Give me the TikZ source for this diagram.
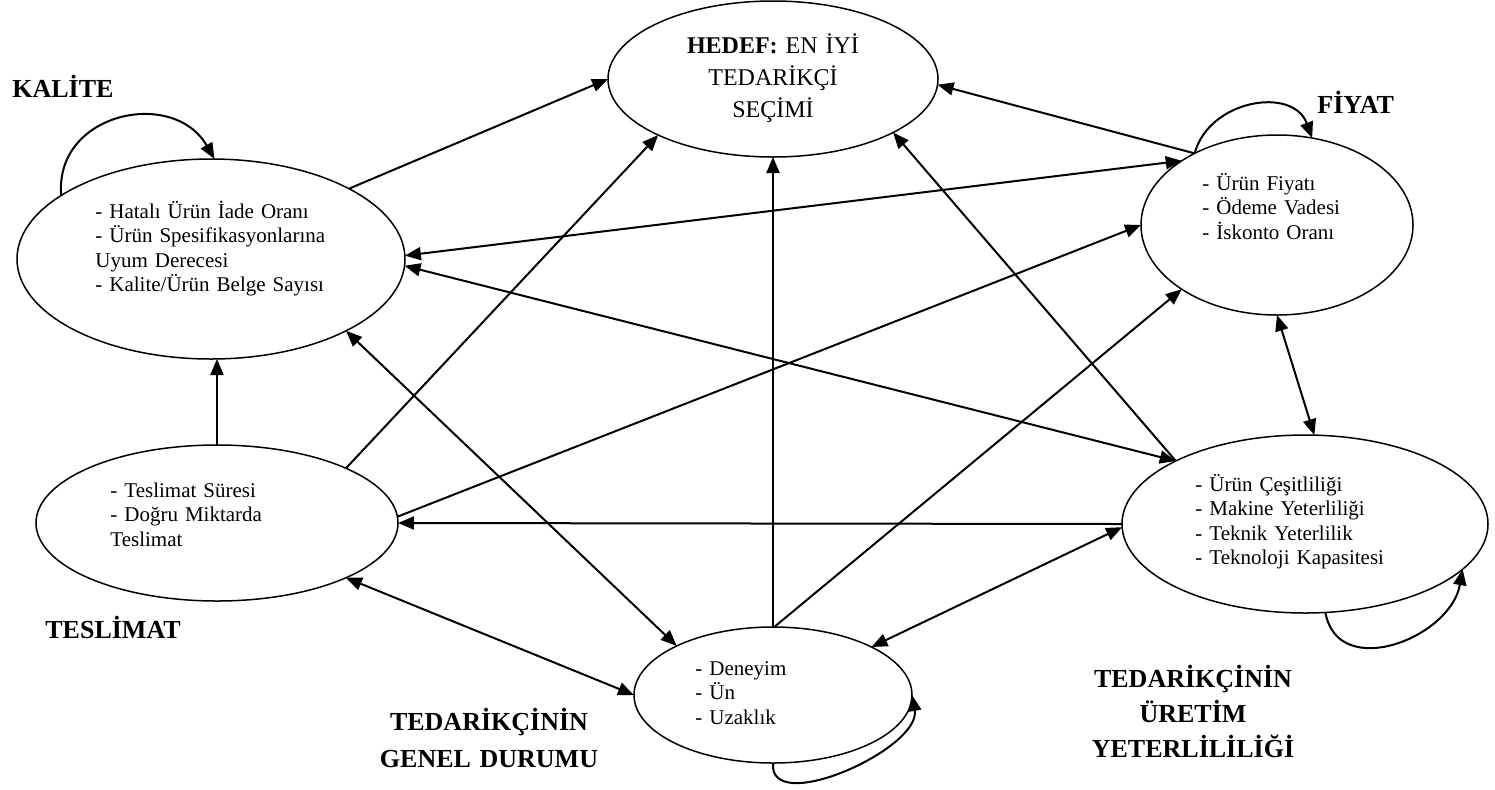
\documentclass[tikz,border=0pt]{standalone}
\usepackage{fontspec}
\setmainfont{Liberation Serif}
\usetikzlibrary{arrows.meta,shapes.geometric}
\begin{document}
\begin{tikzpicture}[x=0.5pt,y=-0.5pt,
  box/.style={ellipse, draw, line width=0.75pt, inner sep=0pt, outer sep=0pt},
  link/.style={line width=1pt},
  >={Triangle[length=8pt,width=6.5pt]},
  body/.style={font=\fontsize{10.5}{12.25}\selectfont, text width=130pt, align=left, inner sep=0pt, anchor=base west},
  title/.style={font=\fontsize{13}{17.5}\selectfont\bfseries, inner sep=0pt},
  goal/.style={font=\fontsize{12}{16}\selectfont, text width=100pt, align=center, inner sep=0pt, anchor=base}]
\useasboundingbox (0,0) rectangle (1495,789);

% ellipses
\node[box, minimum width=194pt, minimum height=100pt] (K) at (211,259) {};
\node[box, minimum width=165pt, minimum height=78pt] (H) at (773,79) {};
\node[box, minimum width=136pt, minimum height=90pt] (F) at (1277,225) {};
\node[box, minimum width=181pt, minimum height=78pt] (T) at (217,523) {};
\node[box, minimum width=139pt, minimum height=68pt] (D) at (773,695) {};
\node[box, minimum width=183pt, minimum height=89pt] (U) at (1305,524) {};

% texts inside
\node[goal] (Htext) at (773,53) {\textbf{HEDEF:} EN İYİ\\TEDARİKÇİ\\SEÇİMİ};
\node[body] (Ktext) at (95,218) {- Hatalı Ürün İade Oranı\\- Ürün Spesifikasyonlarına\\Uyum Derecesi\\- Kalite/Ürün Belge Sayısı};
\node[body] (Ftext) at (1202,190) {- Ürün Fiyatı\\- Ödeme Vadesi\\- İskonto Oranı};
\node[body] (Ttext) at (110,497) {- Teslimat Süresi\\- Doğru Miktarda\\Teslimat};
\node[body] (Dtext) at (695,675) {- Deneyim\\- Ün\\- Uzaklık};
\node[body] (Utext) at (1195,491) {- Ürün Çeşitliliği\\- Makine Yeterliliği\\- Teknik Yeterlilik\\- Teknoloji Kapasitesi};

% titles
\node[title, anchor=base west] (Ktitle) at (12,97) {KALİTE};
\node[title, anchor=base west] (Ftitle) at (1317,113) {FİYAT};
\node[title, anchor=base west] (Ttitle) at (45,638) {TESLİMAT};
\node[title, anchor=base, text width=130pt, align=center, font=\fontsize{13}{18.5}\selectfont\bfseries] (Dtitle) at (489,730) {TEDARİKÇİNİN\\GENEL DURUMU};
\node[title, anchor=base, text width=130pt, align=center] (Utitle) at (1193,687) {TEDARİKÇİNİN\\ÜRETİM\\YETERLİLİLİĞİ};

% connectors to goal
\draw[link,->] (K.27) -- (H.180);
\draw[link,->] (T.23) -- (H.-154);
\draw[link,->] (D.90) -- (H.270);
\draw[link,->] (U.154) -- (H.-24);
\draw[link,->] (F.139) -- (H.-2);

% other connectors
\draw[link,<->] (K.1) -- (F.146);
\draw[link,<->] (K.-2) -- (U.154);
\draw[link,<->] (K.-28) -- (D.153);
\draw[link,->] (T.north) -- (T.north |- K.south);
\draw[link,<->] (T.-23) -- (D.180);
\draw[link,->] (T.2) -- (F.180);
\draw[link,->] (U.180) -- (T.0);
\draw[link,->] (D.89) -- (F.-146);
\draw[link,<->] (D.26) -- (U.181);
\draw[link,<->] (F.-90) -- (U.84);

% self loops
\draw[link,->] (K.157) to[out=95,in=120,looseness=1.35] (K.88);
\draw[link,->] (F.139) to[out=75,in=110,looseness=1.2] (F.68);
\draw[link,->] (D.270) to[out=-95,in=-80,looseness=0.9] (D.0);
\draw[link,->] (U.-77) to[out=-80,in=-100,looseness=1.25] (U.-16);
\end{tikzpicture}
\end{document}
